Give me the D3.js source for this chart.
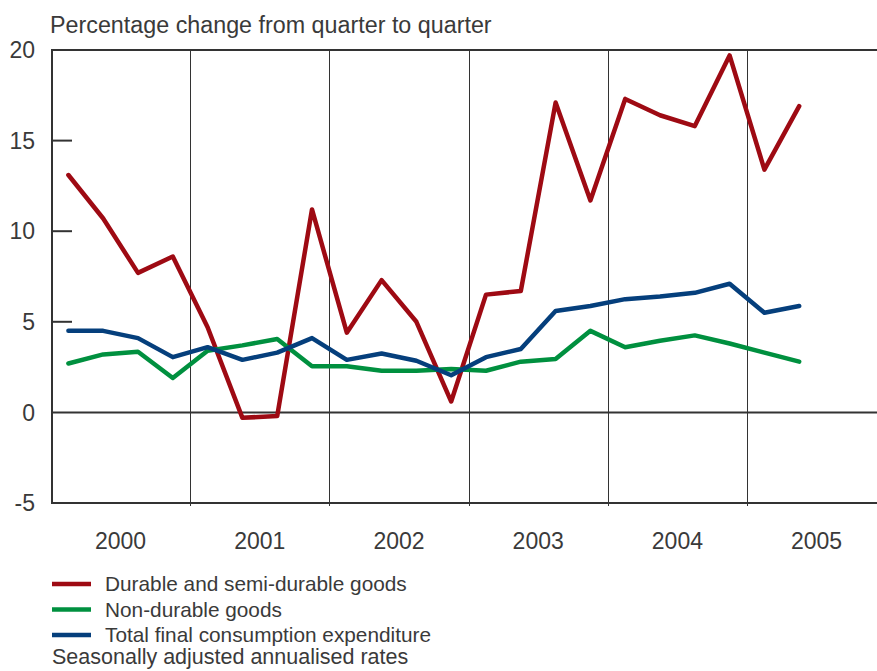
<!DOCTYPE html>
<html>
<head>
<meta charset="utf-8">
<script src="https://cdn.jsdelivr.net/npm/d3@7"></script>
<style>
html,body{margin:0;padding:0;background:#fff;}
svg text{font-family:"Liberation Sans","Helvetica Neue",Arial,sans-serif;fill:#3a3a3a;}
</style>
</head>
<body>
<svg id="chart" width="877" height="671"></svg>
<script>
const years = ["2000","2001","2002","2003","2004","2005"];
const quarters = ["2000Q1","2000Q2","2000Q3","2000Q4","2001Q1","2001Q2","2001Q3","2001Q4",
  "2002Q1","2002Q2","2002Q3","2002Q4","2003Q1","2003Q2","2003Q3","2003Q4",
  "2004Q1","2004Q2","2004Q3","2004Q4","2005Q1","2005Q2"];
const durable = [13.1,10.7,7.7,8.6,4.7,-0.3,-0.2,11.2,4.4,7.3,5.0,0.6,6.5,6.7,17.1,11.7,17.3,16.4,15.8,19.7,13.4,16.9];
const nonDurable = [2.7,3.2,3.35,1.9,3.4,3.7,4.05,2.55,2.55,2.3,2.3,2.4,2.3,2.8,2.95,4.5,3.6,3.95,4.25,3.8,3.3,2.8];
const total = [4.5,4.5,4.1,3.05,3.6,2.9,3.3,4.1,2.9,3.25,2.85,2.05,3.05,3.5,5.6,5.87,6.25,6.4,6.6,7.1,5.5,5.87];
const yTicks = [-5,0,5,10,15,20];
const seriesNames = ["Durable and semi-durable goods","Non-durable goods","Total final consumption expenditure"];
const title = "Percentage change from quarter to quarter";
const note = "Seasonally adjusted annualised rates";

const colors = ["#9e0a13","#00903f","#053f7c"];
const seriesData = [durable, nonDurable, total];

const svg = d3.select("#chart");
const left = 51, qw = 34.8;
const x = d3.scaleLinear().domain([0, 24]).range([left, left + 24*qw]);
const y = d3.scaleLinear().domain([-5, 20]).range([503, 50]);
const snap = v => Math.round(v) + 0.5;

// vertical year separators
svg.append("g").selectAll("line").data(d3.range(1, years.length)).join("line")
  .attr("x1", d => snap(x(d*4))).attr("x2", d => snap(x(d*4)))
  .attr("y1", y(20)).attr("y2", y(-5) + 3)
  .attr("stroke", "#333").attr("stroke-width", 1);

// horizontal full lines: top, zero, bottom
svg.append("g").selectAll("line").data([20, 0, -5]).join("line")
  .attr("x1", left).attr("x2", 877)
  .attr("y1", d => y(d)).attr("y2", d => y(d))
  .attr("stroke", "#333").attr("stroke-width", 2);

// left axis
svg.append("line").attr("x1", left + 1).attr("x2", left + 1)
  .attr("y1", y(20) - 1).attr("y2", y(-5) + 1)
  .attr("stroke", "#333").attr("stroke-width", 2);

// inner ticks
svg.append("g").selectAll("line").data(yTicks.filter(d => d !== 0 && d !== 20 && d !== -5)).join("line")
  .attr("x1", left).attr("x2", left + 21)
  .attr("y1", d => y(d)).attr("y2", d => y(d))
  .attr("stroke", "#333").attr("stroke-width", 2);

// y labels
svg.append("g").selectAll("text").data(yTicks).join("text")
  .attr("x", 35).attr("y", d => y(d)).attr("dy", "0.36em")
  .attr("text-anchor", "end").attr("font-size", 23)
  .text(d => d);

// year labels
svg.append("g").selectAll("text").data(years).join("text")
  .attr("x", (d, i) => x(i*4 + 2)).attr("y", 549)
  .attr("text-anchor", "middle").attr("font-size", 23)
  .text(d => d);

// title
svg.append("text").attr("x", 50).attr("y", 33).attr("font-size", 23.3).text(title);

// lines
const line = d3.line().x((d, i) => x(i + 0.5)).y(d => y(d));
seriesData.forEach((s, k) => {
  svg.append("path").datum(s).attr("d", line)
    .attr("fill", "none").attr("stroke", colors[k]).attr("stroke-width", 4.5)
    .attr("stroke-linejoin", "round").attr("stroke-linecap", "round");
});

// legend
const lg = svg.append("g");
seriesNames.forEach((n, k) => {
  const yy = 584 + k*25.5;
  lg.append("line").attr("x1", 52).attr("x2", 91).attr("y1", yy).attr("y2", yy)
    .attr("stroke", colors[k]).attr("stroke-width", 4.5);
  lg.append("text").attr("x", 105).attr("y", yy).attr("dy", "0.36em")
    .attr("font-size", 20.8).text(n);
});
svg.append("text").attr("x", 52).attr("y", 664).attr("font-size", 21.5).text(note);
</script>
</body>
</html>
